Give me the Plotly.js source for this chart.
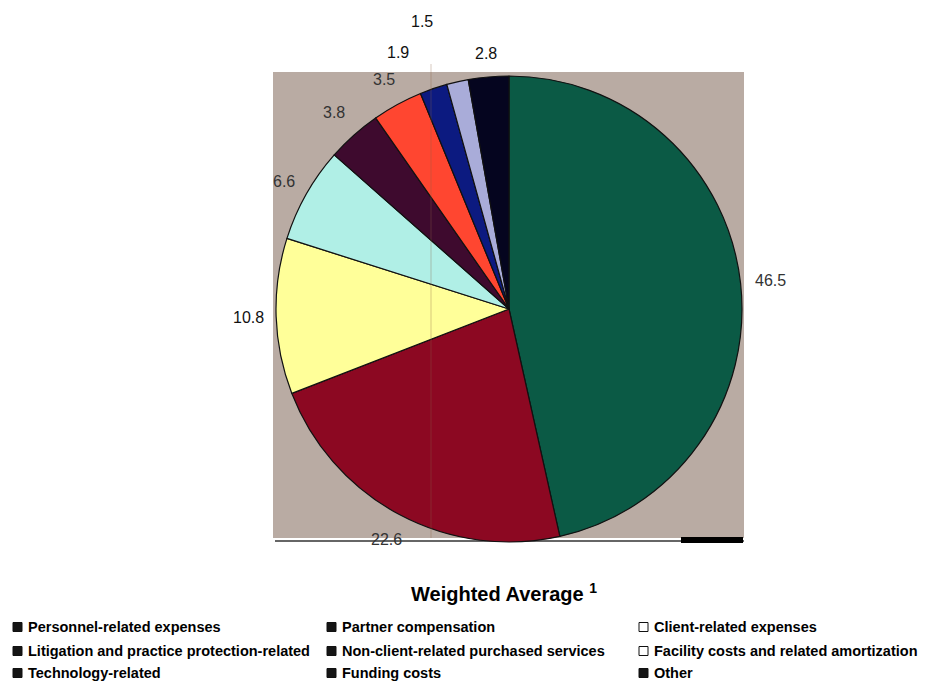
<!DOCTYPE html>
<html>
<head>
<meta charset="utf-8">
<script src="https://cdn.plot.ly/plotly-3.0.1.min.js"></script>
<style>
  html, body { margin: 0; padding: 0; background: #ffffff; }
  #chart { width: 925px; height: 682px; }
</style>
</head>
<body>
<div id="chart"></div>
<script>
// ---- data ----
const categories = [
  'Personnel-related expenses',
  'Partner compensation',
  'Client-related expenses',
  'Litigation and practice protection-related',
  'Non-client-related purchased services',
  'Facility costs and related amortization',
  'Technology-related',
  'Funding costs',
  'Other'
];
const values = [46.5, 22.6, 10.8, 6.6, 3.8, 3.5, 1.9, 1.5, 2.8];
const chartTitle = 'Weighted Average <sup>1</sup>';

// ---- styles ----
const sliceColors = ['#0b5a45', '#8c0822', '#ffff99', '#b0efe6', '#3e0a2e', '#ff4630', '#0c1a80', '#a9acd9', '#05051f'];
const legendMarkerFill = ['#151515', '#151515', '#ffffff', '#151515', '#151515', '#ffffff', '#151515', '#151515', '#151515'];
const labelDist = [1.13, 1.12, 1.12, 1.11, 1.13, 1.12, 1.20, 1.29, 1.10];
const labelAngleOffset = [0, 0, 0, 0, 0, 0, -4.6, -4, 0];
const labelColors = ['#333', '#333', '#111', '#333', '#333', '#333', '#111', '#111', '#111'];

const W = 925, H = 682;
// pie geometry in pixels
const cx = 509, cy = 309, R = 233;
const px = x => x / W;
const py = y => 1 - y / H;

const annotations = [];
// slice value labels, positioned from cumulative angles of the data
const total = values.reduce((a, b) => a + b, 0);
let cum = 0;
values.forEach((v, i) => {
  const mid = (cum + v / 2) / total * 360 + labelAngleOffset[i];
  cum += v;
  const rad = mid * Math.PI / 180;
  const d = R * labelDist[i];
  annotations.push({
    xref: 'paper', yref: 'paper',
    x: px(cx + d * Math.sin(rad)), y: py(cy - d * Math.cos(rad)),
    text: v.toFixed(1), showarrow: false,
    xanchor: 'center', yanchor: 'middle',
    font: { family: 'Arial, Liberation Sans, sans-serif', size: 16, color: labelColors[i] }
  });
});

// title
annotations.push({
  xref: 'paper', yref: 'paper', x: px(504), y: py(592),
  text: '<b>' + chartTitle + '</b>', showarrow: false,
  xanchor: 'center', yanchor: 'middle',
  font: { family: 'Arial, Liberation Sans, sans-serif', size: 20, color: '#000' }
});

// legend (3 columns, row-major)
const colX = [13, 327, 639];
const rowY = [627, 651, 673];
const shapes = [
  { type: 'rect', xref: 'paper', yref: 'paper', layer: 'below',
    x0: px(273), x1: px(744), y0: py(538), y1: py(72),
    fillcolor: '#b9aba3', line: { width: 0 } },
  { type: 'line', xref: 'paper', yref: 'paper', layer: 'below',
    x0: px(275), x1: px(744), y0: py(541), y1: py(541),
    line: { color: '#333', width: 1.5 } },
  { type: 'rect', xref: 'paper', yref: 'paper', layer: 'above',
    x0: px(681), x1: px(743), y0: py(543), y1: py(537),
    fillcolor: '#000', line: { width: 0 } },
  { type: 'line', xref: 'paper', yref: 'paper', layer: 'above',
    x0: px(431), x1: px(431), y0: py(538), y1: py(64),
    line: { color: 'rgba(140,100,70,0.35)', width: 1 } }
];
categories.forEach((c, i) => {
  const col = i % 3, row = Math.floor(i / 3);
  const x = colX[col], y = rowY[row];
  shapes.push({
    type: 'rect', xref: 'paper', yref: 'paper', layer: 'above',
    x0: px(x), x1: px(x + 9), y0: py(y + 4.5), y1: py(y - 4.5),
    fillcolor: legendMarkerFill[i], line: { color: '#111', width: 1 }
  });
  annotations.push({
    xref: 'paper', yref: 'paper', x: px(x + 13), y: py(y),
    text: '<b>' + c + '</b>', showarrow: false,
    xanchor: 'left', yanchor: 'middle',
    font: { family: 'Arial, Liberation Sans, sans-serif', size: 14.5, color: '#000' }
  });
});

const trace = {
  type: 'pie',
  labels: categories,
  values: values,
  sort: false,
  direction: 'clockwise',
  rotation: 0,
  textinfo: 'none',
  hoverinfo: 'label+value',
  marker: { colors: sliceColors, line: { color: '#111', width: 1.2 } },
  domain: { x: [px(cx - R), px(cx + R)], y: [py(cy + R), py(cy - R)] },
  showlegend: false
};

const layout = {
  width: W, height: H,
  margin: { l: 0, r: 0, t: 0, b: 0 },
  paper_bgcolor: '#ffffff',
  showlegend: false,
  shapes: shapes,
  annotations: annotations
};

Plotly.newPlot('chart', [trace], layout, { displayModeBar: false, staticPlot: true });
</script>
</body>
</html>
